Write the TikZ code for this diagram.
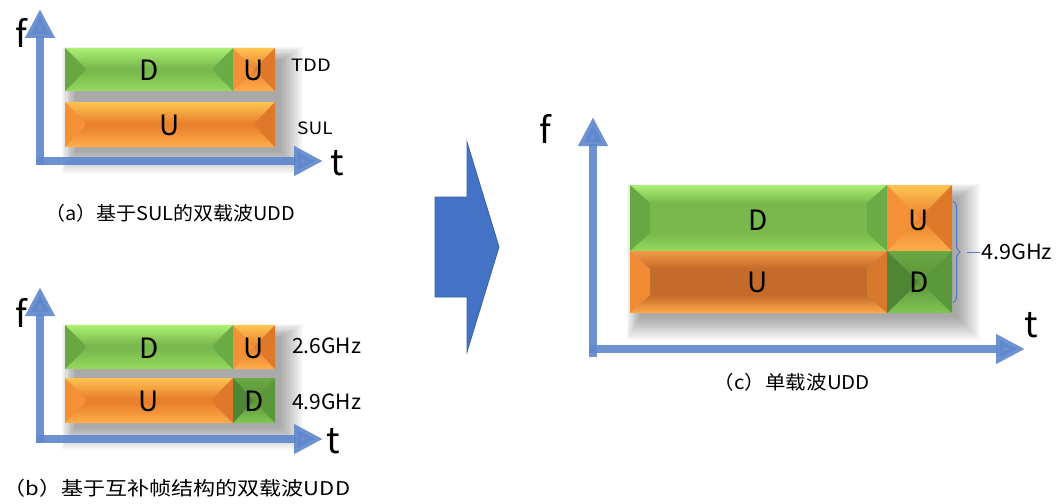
\documentclass[tikz,border=0pt]{standalone}
\usepackage{fontspec}
\setmainfont{Noto Sans CJK SC}
\usetikzlibrary{arrows.meta,decorations.pathreplacing}
\definecolor{gT}{HTML}{ACF074}\definecolor{gM}{HTML}{78B84C}\definecolor{gB}{HTML}{94DA5E}
\definecolor{gL}{HTML}{68A842}\definecolor{gR}{HTML}{6CAC44}
\definecolor{oT}{HTML}{FFC452}\definecolor{oM}{HTML}{E8802C}\definecolor{oB}{HTML}{FFAE4A}
\definecolor{oL}{HTML}{F49036}\definecolor{oR}{HTML}{E0782A}
\definecolor{cT}{HTML}{F49A44}\definecolor{cM}{HTML}{C46A2A}\definecolor{cB}{HTML}{FFAA48}
\definecolor{cL}{HTML}{F08A34}\definecolor{cR}{HTML}{D8782C}
\definecolor{dT}{HTML}{6AA844}\definecolor{dM}{HTML}{5A9438}\definecolor{dB}{HTML}{80C652}
\definecolor{dL}{HTML}{4E8636}\definecolor{dR}{HTML}{5A983C}
\definecolor{axisblue}{HTML}{5F87CD}
\definecolor{bigblue}{HTML}{4472C4}
\definecolor{bigedge}{HTML}{3A62A8}
\definecolor{bracecol}{HTML}{5078C4}
% #1 x0, #2 y0, #3 x1, #4 y1, #5 bx, #6 by, #7 colour prefix
\newcommand\bevelrect[7]{%
  \shade[top color=#7T, bottom color=#7M] (#1,#2) -- (#3,#2) -- (#3-#5,#2+#6) -- (#1+#5,#2+#6) -- cycle;
  \fill[#7M] (#1+#5,#2+#6) rectangle (#3-#5,#4-#6);
  \shade[top color=#7M, bottom color=#7B] (#1+#5,#4-#6) -- (#3-#5,#4-#6) -- (#3,#4) -- (#1,#4) -- cycle;
  \fill[#7L] (#1,#2) -- (#1+#5,#2+#6) -- (#1+#5,#4-#6) -- (#1,#4) -- cycle;
  \fill[#7R] (#3,#2) -- (#3-#5,#2+#6) -- (#3-#5,#4-#6) -- (#3,#4) -- cycle;
}
% soft shadow: #1 x0 #2 y0 #3 x1 #4 y1
\newcommand\softshadow[4]{%
  \foreach \i in {0,...,11}{%
    \fill[black,opacity=0.03] (#1+10-\i*1.2,#2+12-\i*1.2) rectangle (#3+6+\i*2,#4+5+\i*2);
  }%
}
\tikzset{
  axis/.style={draw=axisblue, line width=7.5pt, opacity=0.9, -{Triangle[width=28pt,length=29pt]}},
  boxlabel/.style={font=\fontsize{28}{30}\selectfont, inner sep=0pt},
  axlabel/.style={font=\fontsize{36}{38}\selectfont, inner sep=0pt},
  sidelabel/.style={font=\fontsize{17}{19}\selectfont, inner sep=0pt, anchor=west},
  ghzlabel/.style={font=\fontsize{21}{23}\selectfont, inner sep=0pt, anchor=west},
  caption/.style={font=\fontsize{19}{21}\selectfont, inner sep=0pt},
  bigarrow/.style={fill=bigblue, draw=bigedge, line width=0.8pt},
  bracestyle/.style={draw=bracecol, line width=1pt, decorate, decoration={brace, amplitude=7pt}}
}
\begin{document}
\begin{tikzpicture}[x=1pt,y=-1pt]
\useasboundingbox (0,0) rectangle (1059,503);
\fill[white] (0,0) rectangle (1059,503);

% ---------- panel (a) ----------
\softshadow{65}{48}{275}{147}
\bevelrect{65}{48}{233}{91}{20}{20}{g}
\bevelrect{233}{48}{275}{91}{21}{21.5}{o}
\bevelrect{65}{102}{275}{147}{20}{21}{o}
\node[boxlabel] (aD) at (149,70) {D};
\node[boxlabel] (aU) at (254,70) {U};
\node[boxlabel] (aU2) at (170,125) {U};
\node[sidelabel] (aTDD) at (291,65) {\scalebox{1.18}[1]{TDD}};
\node[sidelabel] (aSUL) at (297,128) {\scalebox{1.12}[1]{SUL}};
\coordinate (aO) at (37,161);
\coordinate (aOv) at (40,165);
\coordinate (aF) at (40,9);
\coordinate (aT) at (323,161);
\draw[axis] (aOv) -- (aF);
\draw[axis] (aO) -- (aT);
\node[axlabel] (af) at (21,33) {f};
\node[axlabel] (at) at (337,163) {t};
\node[caption] (acap) at (170,213) {\scalebox{1.05}[1]{（a）基于SUL的双载波UDD}};

% ---------- panel (b) ----------
\softshadow{65}{325}{275}{423}
\bevelrect{65}{325}{233}{369}{20}{20}{g}
\bevelrect{233}{325}{275}{369}{21}{22}{o}
\bevelrect{65}{378}{233}{423}{20}{20}{o}
\bevelrect{233}{378}{275}{423}{21}{22.5}{d}
\node[boxlabel] (bD) at (149,348) {D};
\node[boxlabel] (bU) at (254,348) {U};
\node[boxlabel] (bU2) at (149,401) {U};
\node[boxlabel] (bD2) at (254,401) {D};
\node[ghzlabel] (b26) at (292,346) {2.6GHz};
\node[ghzlabel] (b49) at (292,402) {4.9GHz};
\coordinate (bO) at (37,439);
\coordinate (bOv) at (40,443);
\coordinate (bF) at (40,287);
\coordinate (bT) at (323,439);
\draw[axis] (bOv) -- (bF);
\draw[axis] (bO) -- (bT);
\node[axlabel] (bf) at (21,313) {f};
\node[axlabel] (bt) at (333,441) {t};
\node[caption] (bcap) at (177,488) {\scalebox{1.16}[1]{（b）基于互补帧结构的双载波UDD}};

% ---------- big arrow ----------
\draw[bigarrow] (435,197) -- (467,197) -- (467,142) -- (499,247) -- (467,352) -- (467,297) -- (435,297) -- cycle;

% ---------- panel (c) ----------
\softshadow{630}{185}{952}{313}
\bevelrect{630}{185}{887}{251}{20}{18}{g}
\bevelrect{887}{185}{952}{251}{32}{33}{o}
\bevelrect{630}{251}{887}{313}{20}{18}{c}
\bevelrect{887}{251}{952}{313}{32}{31}{d}
\node[boxlabel] (cD) at (758,220) {D};
\node[boxlabel] (cU) at (919,220) {U};
\node[boxlabel] (cU2) at (758,282) {U};
\node[boxlabel] (cD2) at (919,282) {D};
\coordinate (brTop) at (953,201);
\coordinate (brBot) at (953,303);
\draw[bracestyle] (brTop) -- (brBot);
\coordinate (tickA) at (967,252);
\coordinate (tickB) at (980,252);
\draw[draw=bracecol, line width=1pt] (tickA) -- (tickB);
\node[ghzlabel] (c49) at (981,252) {\scalebox{1.03}[1]{4.9GHz}};
\coordinate (cO) at (589,349);
\coordinate (cOv) at (593,357);
\coordinate (cF) at (593,117);
\coordinate (cT) at (1025,349);
\draw[axis] (cOv) -- (cF);
\draw[axis] (cO) -- (cT);
\node[axlabel] (cf) at (545,129) {f};
\node[axlabel] (ct) at (1031,325) {t};
\node[caption] (ccap) at (792,382) {\scalebox{1.08}[1]{（c）单载波UDD}};
\end{tikzpicture}
\end{document}
